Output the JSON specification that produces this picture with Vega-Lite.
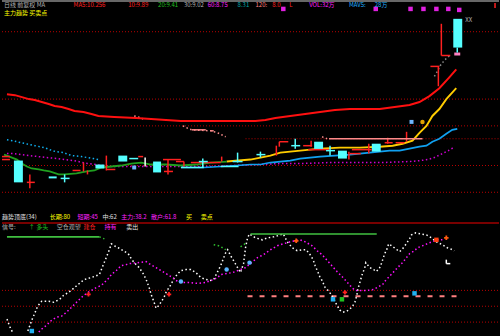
{
"$schema": "https://vega.github.io/schema/vega-lite/v6.json",
"width": 500, "height": 336, "padding": 0,
"autosize": {"type": "fit", "contains": "padding"},
"background": "#000000",
"config": {"view": {"stroke": null}},
"datasets": {
"grid": [
{"x1":0,"x2":500,"y":32},{"x1":0,"x2":500,"y":100},{"x1":0,"x2":500,"y":127},{"x1":245,"x2":500,"y":140},{"x1":0,"x2":500,"y":167},{"x1":0,"x2":500,"y":194},{"x1":0,"x2":500,"y":293},{"x1":0,"x2":500,"y":309},{"x1":0,"x2":500,"y":325}],
"frame": [{"x1":0,"x2":500,"y":1,"k":"top"},{"x1":0,"x2":500,"y":225,"k":"sep"}],
"dash": [{"x1":247,"x2":462,"y":299}],
"ma": [
{"s":"MA1","x":5,"y":95},{"s":"MA1","x":13,"y":96},{"s":"MA1","x":20,"y":98},{"s":"MA1","x":27,"y":100},{"s":"MA1","x":33,"y":101},{"s":"MA1","x":40,"y":103},{"s":"MA1","x":47,"y":105},{"s":"MA1","x":53,"y":107},{"s":"MA1","x":60,"y":108},{"s":"MA1","x":67,"y":110},{"s":"MA1","x":73,"y":112},{"s":"MA1","x":82,"y":113},{"s":"MA1","x":90,"y":115},{"s":"MA1","x":97,"y":117},{"s":"MA1","x":113,"y":118},{"s":"MA1","x":135,"y":119},{"s":"MA1","x":150,"y":120},{"s":"MA1","x":165,"y":121},{"s":"MA1","x":180,"y":122},{"s":"MA1","x":255,"y":122},{"s":"MA1","x":265,"y":121},{"s":"MA1","x":275,"y":119},{"s":"MA1","x":290,"y":117},{"s":"MA1","x":305,"y":115},{"s":"MA1","x":320,"y":113},{"s":"MA1","x":335,"y":111},{"s":"MA1","x":350,"y":110},{"s":"MA1","x":380,"y":110},{"s":"MA1","x":395,"y":108},{"s":"MA1","x":410,"y":106},{"s":"MA1","x":420,"y":103},{"s":"MA1","x":430,"y":97},{"s":"MA1","x":440,"y":89},{"s":"MA1","x":450,"y":78},{"s":"MA1","x":457,"y":70},
{"s":"MA2","x":226,"y":163},{"s":"MA2","x":250,"y":161},{"s":"MA2","x":260,"y":159},{"s":"MA2","x":270,"y":157},{"s":"MA2","x":280,"y":154},{"s":"MA2","x":290,"y":153},{"s":"MA2","x":300,"y":152},{"s":"MA2","x":320,"y":150},{"s":"MA2","x":340,"y":149},{"s":"MA2","x":360,"y":149},{"s":"MA2","x":380,"y":148},{"s":"MA2","x":393,"y":147},{"s":"MA2","x":403,"y":145},{"s":"MA2","x":413,"y":142},{"s":"MA2","x":420,"y":134},{"s":"MA2","x":427,"y":127},{"s":"MA2","x":433,"y":117},{"s":"MA2","x":440,"y":110},{"s":"MA2","x":447,"y":100},{"s":"MA2","x":457,"y":89},
{"s":"MA3","x":2,"y":156},{"s":"MA3","x":5,"y":157},{"s":"MA3","x":15,"y":161},{"s":"MA3","x":20,"y":165},{"s":"MA3","x":25,"y":168},{"s":"MA3","x":30,"y":170},{"s":"MA3","x":37,"y":171},{"s":"MA3","x":42,"y":172},{"s":"MA3","x":48,"y":173},{"s":"MA3","x":57,"y":176},{"s":"MA3","x":63,"y":176},{"s":"MA3","x":75,"y":175},{"s":"MA3","x":85,"y":173},{"s":"MA3","x":93,"y":172},{"s":"MA3","x":100,"y":169},{"s":"MA3","x":110,"y":168},{"s":"MA3","x":120,"y":167},{"s":"MA3","x":130,"y":165},{"s":"MA3","x":140,"y":164},{"s":"MA3","x":150,"y":166},{"s":"MA3","x":165,"y":166},{"s":"MA3","x":180,"y":167},{"s":"MA3","x":195,"y":166},{"s":"MA3","x":210,"y":164},{"s":"MA3","x":226,"y":163},
{"s":"MA4","x":180,"y":169},{"s":"MA4","x":203,"y":169},{"s":"MA4","x":220,"y":168},{"s":"MA4","x":237,"y":167},{"s":"MA4","x":250,"y":166},{"s":"MA4","x":260,"y":166},{"s":"MA4","x":270,"y":164},{"s":"MA4","x":280,"y":163},{"s":"MA4","x":290,"y":162},{"s":"MA4","x":300,"y":160},{"s":"MA4","x":310,"y":159},{"s":"MA4","x":320,"y":158},{"s":"MA4","x":335,"y":157},{"s":"MA4","x":350,"y":156},{"s":"MA4","x":370,"y":154},{"s":"MA4","x":390,"y":152},{"s":"MA4","x":400,"y":152},{"s":"MA4","x":410,"y":150},{"s":"MA4","x":420,"y":148},{"s":"MA4","x":427,"y":147},{"s":"MA4","x":433,"y":143},{"s":"MA4","x":440,"y":140},{"s":"MA4","x":447,"y":135},{"s":"MA4","x":453,"y":131},{"s":"MA4","x":458,"y":130},
{"s":"H1","x":5,"y":239},{"s":"H1","x":98,"y":239},
{"s":"H2","x":250,"y":236},{"s":"H2","x":377,"y":236}],
"dots": [
{"s":"D1","x":5,"y":141},{"s":"D1","x":11,"y":142},{"s":"D1","x":15,"y":143},{"s":"D1","x":19,"y":144},{"s":"D1","x":24,"y":145},{"s":"D1","x":28,"y":146},{"s":"D1","x":33,"y":147},{"s":"D1","x":38,"y":148},{"s":"D1","x":43,"y":149},{"s":"D1","x":48,"y":151},{"s":"D1","x":54,"y":153},{"s":"D1","x":62,"y":154},{"s":"D1","x":67,"y":156},{"s":"D1","x":71,"y":157},{"s":"D1","x":80,"y":158},{"s":"D1","x":86,"y":159},{"s":"D1","x":92,"y":160},{"s":"D1","x":97,"y":161},
{"s":"D2","x":5,"y":155},{"s":"D2","x":12,"y":155},{"s":"D2","x":20,"y":156},{"s":"D2","x":28,"y":157},{"s":"D2","x":45,"y":159},{"s":"D2","x":56,"y":160},{"s":"D2","x":63,"y":161},{"s":"D2","x":72,"y":162},{"s":"D2","x":86,"y":165},{"s":"D2","x":95,"y":166},{"s":"D2","x":100,"y":167},{"s":"D2","x":110,"y":168},{"s":"D2","x":208,"y":168},{"s":"D2","x":258,"y":166},{"s":"D2","x":280,"y":165},{"s":"D2","x":300,"y":165},{"s":"D2","x":330,"y":164},{"s":"D2","x":383,"y":164},{"s":"D2","x":410,"y":163},{"s":"D2","x":421,"y":162},{"s":"D2","x":428,"y":161},{"s":"D2","x":435,"y":159},{"s":"D2","x":445,"y":154},{"s":"D2","x":449,"y":152},{"s":"D2","x":454,"y":149},
{"s":"S1","x":133,"y":117},{"s":"S1","x":137,"y":118},{"s":"S1","x":142,"y":120},
{"s":"S2","x":182,"y":127},{"s":"S2","x":188,"y":130},{"s":"S2","x":191,"y":131},{"s":"S2","x":210,"y":132},{"s":"S2","x":217,"y":134},{"s":"S2","x":225,"y":138},
{"s":"S3","x":322,"y":138},{"s":"S3","x":327,"y":140},
{"s":"G1","x":435,"y":77},{"s":"G1","x":438,"y":72},{"s":"G1","x":441,"y":66},{"s":"G1","x":445,"y":61},{"s":"G1","x":448,"y":58},{"s":"G1","x":452,"y":55},
{"s":"W0","x":5,"y":322},{"s":"W0","x":8,"y":330},{"s":"W0","x":11,"y":336},
{"s":"W","x":26,"y":334},{"s":"W","x":30,"y":323},{"s":"W","x":33,"y":316},{"s":"W","x":35,"y":311},{"s":"W","x":38,"y":306},{"s":"W","x":40,"y":304},{"s":"W","x":47,"y":304},{"s":"W","x":52,"y":305},{"s":"W","x":58,"y":302},{"s":"W","x":62,"y":298},{"s":"W","x":67,"y":295},{"s":"W","x":72,"y":291},{"s":"W","x":79,"y":285},{"s":"W","x":83,"y":282},{"s":"W","x":90,"y":280},{"s":"W","x":98,"y":277},{"s":"W","x":100,"y":272},{"s":"W","x":102,"y":267},{"s":"W","x":104,"y":262},{"s":"W","x":106,"y":257},{"s":"W","x":108,"y":252},{"s":"W","x":110,"y":246},{"s":"W","x":113,"y":248},{"s":"W","x":117,"y":250},{"s":"W","x":122,"y":253},{"s":"W","x":127,"y":256},{"s":"W","x":130,"y":261},{"s":"W","x":133,"y":265},{"s":"W","x":138,"y":270},{"s":"W","x":142,"y":276},{"s":"W","x":145,"y":282},{"s":"W","x":148,"y":290},{"s":"W","x":150,"y":297},{"s":"W","x":153,"y":305},{"s":"W","x":155,"y":311},{"s":"W","x":158,"y":308},{"s":"W","x":163,"y":300},{"s":"W","x":165,"y":295},{"s":"W","x":170,"y":287},{"s":"W","x":173,"y":281},{"s":"W","x":177,"y":276},{"s":"W","x":180,"y":273},{"s":"W","x":185,"y":272},{"s":"W","x":190,"y":272},{"s":"W","x":195,"y":275},{"s":"W","x":200,"y":280},{"s":"W","x":205,"y":282},{"s":"W","x":210,"y":283},{"s":"W","x":213,"y":282},{"s":"W","x":215,"y":278},{"s":"W","x":220,"y":268},{"s":"W","x":225,"y":255},{"s":"W","x":227,"y":252},{"s":"W","x":230,"y":258},{"s":"W","x":233,"y":263},{"s":"W","x":237,"y":270},{"s":"W","x":240,"y":275},{"s":"W","x":243,"y":266},{"s":"W","x":245,"y":250},{"s":"W","x":247,"y":240},{"s":"W","x":249,"y":236},{"s":"W","x":255,"y":240},{"s":"W","x":262,"y":242},{"s":"W","x":267,"y":240},{"s":"W","x":273,"y":239},{"s":"W","x":277,"y":238},{"s":"W","x":283,"y":236},{"s":"W","x":287,"y":244},{"s":"W","x":292,"y":250},{"s":"W","x":297,"y":253},{"s":"W","x":303,"y":252},{"s":"W","x":306,"y":252},{"s":"W","x":310,"y":257},{"s":"W","x":313,"y":262},{"s":"W","x":315,"y":268},{"s":"W","x":318,"y":275},{"s":"W","x":320,"y":280},{"s":"W","x":322,"y":283},{"s":"W","x":325,"y":290},{"s":"W","x":328,"y":293},{"s":"W","x":331,"y":297},{"s":"W","x":334,"y":302},{"s":"W","x":337,"y":308},{"s":"W","x":340,"y":313},{"s":"W","x":343,"y":315},{"s":"W","x":347,"y":314},{"s":"W","x":352,"y":310},{"s":"W","x":355,"y":305},{"s":"W","x":357,"y":298},{"s":"W","x":358,"y":292},{"s":"W","x":360,"y":285},{"s":"W","x":362,"y":278},{"s":"W","x":365,"y":270},{"s":"W","x":366,"y":265},{"s":"W","x":370,"y":270},{"s":"W","x":374,"y":272},{"s":"W","x":376,"y":274},{"s":"W","x":379,"y":272},{"s":"W","x":381,"y":268},{"s":"W","x":383,"y":262},{"s":"W","x":385,"y":256},{"s":"W","x":387,"y":252},{"s":"W","x":389,"y":246},{"s":"W","x":392,"y":248},{"s":"W","x":396,"y":251},{"s":"W","x":400,"y":254},{"s":"W","x":403,"y":251},{"s":"W","x":406,"y":247},{"s":"W","x":408,"y":244},{"s":"W","x":410,"y":241},{"s":"W","x":412,"y":237},{"s":"W","x":416,"y":235},{"s":"W","x":421,"y":236},{"s":"W","x":427,"y":237},{"s":"W","x":432,"y":240},{"s":"W","x":437,"y":244},{"s":"W","x":443,"y":247},{"s":"W","x":448,"y":250},{"s":"W","x":451,"y":251},{"s":"W","x":455,"y":253},
{"s":"M","x":37,"y":335},{"s":"M","x":40,"y":332},{"s":"M","x":45,"y":328},{"s":"M","x":50,"y":323},{"s":"M","x":55,"y":320},{"s":"M","x":60,"y":319},{"s":"M","x":65,"y":315},{"s":"M","x":70,"y":310},{"s":"M","x":72,"y":308},{"s":"M","x":77,"y":303},{"s":"M","x":80,"y":300},{"s":"M","x":85,"y":296},{"s":"M","x":90,"y":293},{"s":"M","x":95,"y":290},{"s":"M","x":100,"y":288},{"s":"M","x":108,"y":280},{"s":"M","x":110,"y":277},{"s":"M","x":115,"y":273},{"s":"M","x":118,"y":270},{"s":"M","x":120,"y":268},{"s":"M","x":125,"y":267},{"s":"M","x":128,"y":266},{"s":"M","x":145,"y":264},{"s":"M","x":148,"y":266},{"s":"M","x":155,"y":270},{"s":"M","x":160,"y":273},{"s":"M","x":165,"y":276},{"s":"M","x":168,"y":278},{"s":"M","x":172,"y":280},{"s":"M","x":175,"y":283},{"s":"M","x":180,"y":285},{"s":"M","x":187,"y":285},{"s":"M","x":197,"y":286},{"s":"M","x":205,"y":285},{"s":"M","x":210,"y":283},{"s":"M","x":213,"y":282},{"s":"M","x":217,"y":280},{"s":"M","x":220,"y":277},{"s":"M","x":232,"y":275},{"s":"M","x":245,"y":270},{"s":"M","x":257,"y":260},{"s":"M","x":263,"y":257},{"s":"M","x":270,"y":252},{"s":"M","x":277,"y":248},{"s":"M","x":283,"y":246},{"s":"M","x":290,"y":244},{"s":"M","x":295,"y":243},{"s":"M","x":300,"y":242},{"s":"M","x":305,"y":244},{"s":"M","x":312,"y":248},{"s":"M","x":317,"y":253},{"s":"M","x":322,"y":257},{"s":"M","x":330,"y":266},{"s":"M","x":337,"y":274},{"s":"M","x":340,"y":277},{"s":"M","x":343,"y":280},{"s":"M","x":352,"y":290},{"s":"M","x":355,"y":293},{"s":"M","x":362,"y":293},{"s":"M","x":368,"y":293},{"s":"M","x":374,"y":292},{"s":"M","x":383,"y":287},{"s":"M","x":385,"y":284},{"s":"M","x":398,"y":270},{"s":"M","x":400,"y":268},{"s":"M","x":403,"y":265},{"s":"M","x":410,"y":256},{"s":"M","x":415,"y":253},{"s":"M","x":418,"y":250},{"s":"M","x":423,"y":248},{"s":"M","x":430,"y":245},{"s":"M","x":438,"y":242},{"s":"M","x":443,"y":242},
{"s":"GD1","x":213,"y":247},{"s":"GD1","x":218,"y":248},{"s":"GD1","x":222,"y":250},{"s":"GD1","x":225,"y":252},
{"s":"GD2","x":240,"y":249},{"s":"GD2","x":243,"y":247},{"s":"GD2","x":246,"y":245},
{"s":"GD3","x":98,"y":239},{"s":"GD3","x":103,"y":241}],
"bodies": [
{"x1":12,"y1":162,"x2":21,"y2":184,"k":"dn"},{"x1":47,"y1":178,"x2":55,"y2":180,"k":"dn"},{"x1":94,"y1":166,"x2":103,"y2":170,"k":"dn"},{"x1":117,"y1":157,"x2":126,"y2":163,"k":"dn"},{"x1":152,"y1":163,"x2":160,"y2":174,"k":"dn"},{"x1":314,"y1":143,"x2":323,"y2":151,"k":"dn"},{"x1":338,"y1":152,"x2":347,"y2":160,"k":"dn"},{"x1":372,"y1":145,"x2":381,"y2":153,"k":"dn"},{"x1":454,"y1":19,"x2":463,"y2":48,"k":"dn"},
{"x1":131,"y1":167,"x2":135,"y2":171,"k":"lb"},{"x1":410,"y1":121,"x2":414,"y2":125,"k":"lb"},
{"x1":455,"y1":53,"x2":461,"y2":56,"k":"pk"}],
"segs": [
{"x1":0,"y1":158,"x2":8,"y2":158,"k":"r"},{"x1":0,"y1":161,"x2":8,"y2":161,"k":"r"},{"x1":28,"y1":176,"x2":28,"y2":190,"k":"r"},{"x1":25,"y1":184,"x2":33,"y2":184,"k":"r"},{"x1":71,"y1":172,"x2":79,"y2":172,"k":"r"},{"x1":82,"y1":164,"x2":82,"y2":173,"k":"r"},{"x1":86,"y1":172,"x2":86,"y2":176,"k":"r"},{"x1":105,"y1":157,"x2":105,"y2":172,"k":"r"},{"x1":105,"y1":171,"x2":114,"y2":171,"k":"r"},{"x1":137,"y1":158,"x2":142,"y2":158,"k":"r"},{"x1":162,"y1":161,"x2":180,"y2":161,"k":"r"},{"x1":167,"y1":161,"x2":167,"y2":176,"k":"r"},{"x1":163,"y1":173,"x2":172,"y2":173,"k":"r"},{"x1":175,"y1":163,"x2":183,"y2":163,"k":"r"},{"x1":183,"y1":163,"x2":183,"y2":168,"k":"r"},{"x1":190,"y1":164,"x2":220,"y2":164,"k":"r"},{"x1":221,"y1":158,"x2":221,"y2":163,"k":"r"},{"x1":276,"y1":147,"x2":276,"y2":157,"k":"r"},{"x1":279,"y1":143,"x2":288,"y2":143,"k":"r"},{"x1":279,"y1":143,"x2":279,"y2":148,"k":"r"},{"x1":303,"y1":147,"x2":312,"y2":147,"k":"r"},{"x1":311,"y1":142,"x2":311,"y2":148,"k":"r"},{"x1":308,"y1":151,"x2":329,"y2":151,"k":"r"},{"x1":349,"y1":153,"x2":349,"y2":161,"k":"r"},{"x1":350,"y1":155,"x2":361,"y2":155,"k":"r"},{"x1":369,"y1":145,"x2":369,"y2":155,"k":"r"},{"x1":352,"y1":151,"x2":372,"y2":151,"k":"r"},{"x1":385,"y1":144,"x2":393,"y2":144,"k":"r"},{"x1":388,"y1":139,"x2":388,"y2":145,"k":"r"},{"x1":396,"y1":144,"x2":405,"y2":144,"k":"r"},{"x1":407,"y1":133,"x2":407,"y2":143,"k":"r"},{"x1":442,"y1":24,"x2":442,"y2":56,"k":"r"},{"x1":442,"y1":56,"x2":451,"y2":56,"k":"r"},{"x1":431,"y1":67,"x2":440,"y2":67,"k":"r"},{"x1":439,"y1":67,"x2":439,"y2":87,"k":"r"},{"x1":496,"y1":3,"x2":496,"y2":8,"k":"r"},
{"x1":59,"y1":180,"x2":68,"y2":180,"k":"c"},{"x1":63,"y1":176,"x2":63,"y2":184,"k":"c"},{"x1":128,"y1":160,"x2":137,"y2":160,"k":"c"},{"x1":180,"y1":169,"x2":203,"y2":169,"k":"c"},{"x1":202,"y1":160,"x2":202,"y2":169,"k":"c"},{"x1":198,"y1":163,"x2":207,"y2":163,"k":"c"},{"x1":220,"y1":168,"x2":238,"y2":168,"k":"c"},{"x1":237,"y1":154,"x2":237,"y2":164,"k":"c"},{"x1":232,"y1":163,"x2":242,"y2":163,"k":"c"},{"x1":256,"y1":156,"x2":265,"y2":156,"k":"c"},{"x1":260,"y1":153,"x2":260,"y2":159,"k":"c"},{"x1":291,"y1":147,"x2":300,"y2":147,"k":"c"},{"x1":295,"y1":140,"x2":295,"y2":150,"k":"c"},{"x1":326,"y1":152,"x2":335,"y2":152,"k":"c"},{"x1":330,"y1":147,"x2":330,"y2":157,"k":"c"},{"x1":458,"y1":48,"x2":458,"y2":53,"k":"c"},
{"x1":144,"y1":159,"x2":144,"y2":168,"k":"w"},{"x1":447,"y1":262,"x2":447,"y2":266,"k":"w"},{"x1":447,"y1":266,"x2":451,"y2":266,"k":"w"},
{"x1":191,"y1":131,"x2":205,"y2":131,"k":"sl"},{"x1":210,"y1":132,"x2":213,"y2":132,"k":"sl"},{"x1":329,"y1":140,"x2":423,"y2":140,"k":"sl"}],
"marks": [
{"x":87,"y":297,"k":"cross"},{"x":168,"y":297,"k":"cross"},{"x":345,"y":295,"k":"cross"},
{"x":296,"y":243,"k":"ocross"},{"x":447,"y":240,"k":"ocross"},{"x":437,"y":242,"k":"osq"},
{"x":180,"y":284,"k":"blob"},{"x":226,"y":272,"k":"blob"},{"x":249,"y":265,"k":"blob"},
{"x":342,"y":302,"k":"gs"},{"x":333,"y":302,"k":"cy"},{"x":415,"y":296,"k":"cy"},{"x":30,"y":334,"k":"cy"},
{"x":423,"y":123,"k":"coin"},
{"x":283,"y":9,"k":"mt"},{"x":376,"y":9,"k":"mt"},{"x":411,"y":9,"k":"mt"},{"x":424,"y":9,"k":"mt"},{"x":437,"y":9,"k":"mt"},{"x":449,"y":9,"k":"mt"},{"x":460,"y":10,"k":"mt"}],
"texts": [
{"x":2,"y":5,"t":"日线 前复权 MA","k":"gray"},
{"x":72,"y":5,"t":"MA5:10.256","k":"red"},
{"x":127,"y":5,"t":"10:9.89","k":"red"},
{"x":157,"y":5,"t":"20:9.41","k":"green"},
{"x":183,"y":5,"t":"30:9.02","k":"gray"},
{"x":207,"y":5,"t":"60:8.75","k":"magenta"},
{"x":237,"y":5,"t":"8.31","k":"teal"},
{"x":255,"y":5,"t":"120:","k":"salmon"},
{"x":272,"y":5,"t":"8.0","k":"red"},
{"x":289,"y":5,"t":"L","k":"red"},
{"x":309,"y":5,"t":"VOL:32万","k":"magenta"},
{"x":349,"y":5,"t":"MAV5:","k":"blue"},
{"x":375,"y":5,"t":"28万","k":"blue"},
{"x":2,"y":13,"t":"主力趋势 买卖点","k":"yellow"},
{"x":466,"y":20,"t":"XX","k":"gray"},
{"x":0,"y":219,"t":"趋势顶底(34)","k":"white"},
{"x":48,"y":219,"t":"长期:80","k":"yellow"},
{"x":76,"y":219,"t":"短期:45","k":"magenta"},
{"x":101,"y":219,"t":"中:62","k":"white"},
{"x":120,"y":219,"t":"主力:38.2","k":"magenta"},
{"x":150,"y":219,"t":"散户:61.8","k":"magenta"},
{"x":185,"y":219,"t":"买","k":"yellow"},
{"x":200,"y":219,"t":"卖点","k":"yellow"},
{"x":0,"y":229,"t":"信号:","k":"gray"},
{"x":27,"y":229,"t":"↑ 多头","k":"green"},
{"x":55,"y":229,"t":"空仓观望","k":"gray"},
{"x":82,"y":229,"t":"建仓","k":"red"},
{"x":103,"y":229,"t":"持有","k":"magenta"},
{"x":125,"y":229,"t":"卖出","k":"white"}]
},
"resolve": {"scale": {"color": "independent", "shape": "independent", "size": "independent", "strokeWidth": "independent"}},
"layer": [
{"data": {"name": "grid"}, "mark": {"type": "rule", "color": "#b80000", "strokeDash": [1, 2], "strokeWidth": 1},
 "encoding": {"x": {"field": "x1", "type": "quantitative", "scale": {"domain": [0, 500], "nice": false, "zero": false}, "axis": null}, "x2": {"field": "x2"},
  "y": {"field": "y", "type": "quantitative", "scale": {"domain": [0, 336], "reverse": true, "nice": false, "zero": false}, "axis": null}}},
{"data": {"name": "frame"}, "mark": {"type": "rule", "strokeWidth": 1.5},
 "encoding": {"x": {"field": "x1", "type": "quantitative", "axis": null}, "x2": {"field": "x2"},
  "y": {"field": "y", "type": "quantitative", "axis": null},
  "color": {"field": "k", "type": "nominal", "scale": {"domain": ["top", "sep"], "range": ["#8a8a8a", "#a00000"]}, "legend": null}}},
{"data": {"name": "dash"}, "mark": {"type": "rule", "color": "#ff8080", "strokeDash": [5, 7], "strokeWidth": 2},
 "encoding": {"x": {"field": "x1", "type": "quantitative", "axis": null}, "x2": {"field": "x2"}, "y": {"field": "y", "type": "quantitative", "axis": null}}},
{"data": {"name": "dots"}, "mark": {"type": "line", "strokeDash": [1.5, 2.5], "strokeWidth": 1.5},
 "encoding": {"x": {"field": "x", "type": "quantitative", "axis": null}, "y": {"field": "y", "type": "quantitative", "axis": null},
  "detail": {"field": "s"},
  "color": {"field": "s", "type": "nominal", "scale": {"domain": ["D1", "D2", "S1", "S2", "S3", "G1", "W0", "W", "M", "GD1", "GD2", "GD3"], "range": ["#10b0f0", "#d000d0", "#ff9090", "#ff9090", "#ff9090", "#8c8c8c", "#ffffff", "#ffffff", "#ff10ff", "#30c030", "#30c030", "#30c030"]}, "legend": null}}},
{"data": {"name": "ma"}, "mark": {"type": "line"},
 "encoding": {"x": {"field": "x", "type": "quantitative", "axis": null}, "y": {"field": "y", "type": "quantitative", "axis": null},
  "detail": {"field": "s"},
  "color": {"field": "s", "type": "nominal", "scale": {"domain": ["MA1", "MA2", "MA3", "MA4", "H1", "H2"], "range": ["#ff1010", "#ffcc00", "#1f9f1f", "#10a0f0", "#40c040", "#40c040"]}, "legend": null},
  "strokeWidth": {"field": "s", "type": "nominal", "scale": {"domain": ["MA1", "MA2", "MA3", "MA4", "H1", "H2"], "range": [2, 1.5, 1.5, 1.5, 1.5, 1.5]}, "legend": null}}},
{"data": {"name": "bodies"}, "mark": {"type": "rect"},
 "encoding": {"x": {"field": "x1", "type": "quantitative", "axis": null}, "x2": {"field": "x2"}, "y": {"field": "y1", "type": "quantitative", "axis": null}, "y2": {"field": "y2"},
  "color": {"field": "k", "type": "nominal", "scale": {"domain": ["dn", "lb", "pk"], "range": ["#55ffff", "#6fb6ff", "#ff80c0"]}, "legend": null}}},
{"data": {"name": "segs"}, "mark": {"type": "rule", "strokeWidth": 1.5},
 "encoding": {"x": {"field": "x1", "type": "quantitative", "axis": null}, "x2": {"field": "x2"}, "y": {"field": "y1", "type": "quantitative", "axis": null}, "y2": {"field": "y2"},
  "color": {"field": "k", "type": "nominal", "scale": {"domain": ["r", "c", "w", "sl"], "range": ["#ff2020", "#55ffff", "#ffffff", "#ff8a8a"]}, "legend": null}}},
{"data": {"name": "marks"}, "mark": {"type": "point", "filled": true, "opacity": 1},
 "encoding": {"x": {"field": "x", "type": "quantitative", "axis": null}, "y": {"field": "y", "type": "quantitative", "axis": null},
  "color": {"field": "k", "type": "nominal", "scale": {"domain": ["cross", "ocross", "osq", "blob", "gs", "cy", "coin", "mt"], "range": ["#ff2020", "#ff5a10", "#ff4010", "#5ab4ff", "#20c020", "#20b0f0", "#e0a000", "#e020e0"]}, "legend": null},
  "shape": {"field": "k", "type": "nominal", "scale": {"domain": ["cross", "ocross", "osq", "blob", "gs", "cy", "coin", "mt"], "range": ["cross", "cross", "square", "circle", "square", "square", "circle", "square"]}, "legend": null},
  "size": {"field": "k", "type": "nominal", "scale": {"domain": ["cross", "ocross", "osq", "blob", "gs", "cy", "coin", "mt"], "range": [20, 20, 18, 22, 12, 6, 28, 2]}, "legend": null}}},
{"data": {"name": "texts"}, "mark": {"type": "text", "align": "left", "baseline": "middle", "fontSize": 6, "font": "Noto Sans CJK SC"},
 "encoding": {"x": {"field": "x", "type": "quantitative", "axis": null}, "y": {"field": "y", "type": "quantitative", "axis": null}, "text": {"field": "t"},
  "color": {"field": "k", "type": "nominal", "scale": {"domain": ["gray", "red", "green", "magenta", "teal", "salmon", "blue", "yellow", "white"], "range": ["#b0b0b0", "#ff2020", "#20c020", "#ff20ff", "#00a8a8", "#ff8080", "#20b0ff", "#ffff00", "#e0e0e0"]}, "legend": null}}}
]
}
